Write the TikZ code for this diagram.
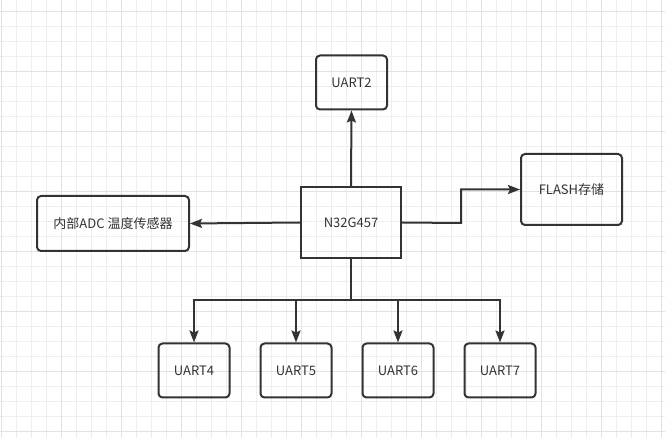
\documentclass[tikz,border=0pt]{standalone}
\usepackage{fontspec}
\setmainfont{Noto Sans CJK SC}
\usetikzlibrary{arrows.meta}
\definecolor{ink}{HTML}{333333}
\definecolor{gridminor}{HTML}{EEEEEE}
\definecolor{gridmajor}{HTML}{E2E2E2}
\begin{document}
\begin{tikzpicture}[x=1pt,y=-1pt,
  box/.style={draw=ink,line width=2pt,rounded corners=4pt,minimum width=71pt,minimum height=54pt,inner sep=0pt,font=\fontsize{13}{15}\selectfont,text=ink},
  mcu/.style={draw=ink,line width=2pt,minimum width=100pt,minimum height=71pt,inner sep=0pt,font=\fontsize{13}{15}\selectfont,text=ink},
  conn/.style={draw=ink,line width=2pt,-{Stealth[length=12pt,width=9pt,inset=2pt]}},
  wire/.style={draw=ink,line width=2pt}]
\useasboundingbox (0,0) rectangle (665,438);
\fill[white] (0,0) rectangle (665,438);
\foreach \i in {0,...,44} {
  \pgfmathsetmacro{\xx}{1+15*\i}
  \draw[gridminor,line width=1pt] (\xx,0) -- (\xx,438);
}
\foreach \j in {0,...,28} {
  \pgfmathsetmacro{\yy}{12+15*\j}
  \draw[gridminor,line width=1pt] (0,\yy) -- (665,\yy);
}
\foreach \i in {0,...,11} {
  \pgfmathsetmacro{\xx}{1+60*\i}
  \draw[gridmajor,line width=1pt] (\xx,0) -- (\xx,438);
}
\foreach \j in {0,...,7} {
  \pgfmathsetmacro{\yy}{12+60*\j}
  \draw[gridmajor,line width=1pt] (0,\yy) -- (665,\yy);
}
\node[mcu] (mcu) at (351,222.5) {N32G457};
\node[box] (u2) at (351.5,82.5) {UART2};
\node[box,minimum width=152pt,minimum height=55pt] (adc) at (113,223.5) {内部ADC 温度传感器};
\node[box,minimum width=101pt,minimum height=71pt] (flash) at (571.5,189.5) {FLASH存储};
\node[box] (u4) at (194,370.5) {UART4};
\node[box] (u5) at (296,370.5) {UART5};
\node[box] (u6) at (398,370.5) {UART6};
\node[box] (u7) at (500,370.5) {UART7};
\coordinate (bus) at (351,300.5);
\coordinate (fbend) at (461,223);
\draw[conn] (mcu.north) -- (u2.south);
\draw[conn] (mcu.west) -- (adc.east);
\draw[conn] (mcu.east) -- (fbend) |- (flash.west);
\draw[wire] (mcu.south) -- (bus);
\draw[conn] (bus) -| (u4.north);
\draw[conn] (bus) -| (u5.north);
\draw[conn] (bus) -| (u6.north);
\draw[conn] (bus) -| (u7.north);
\end{tikzpicture}
\end{document}
